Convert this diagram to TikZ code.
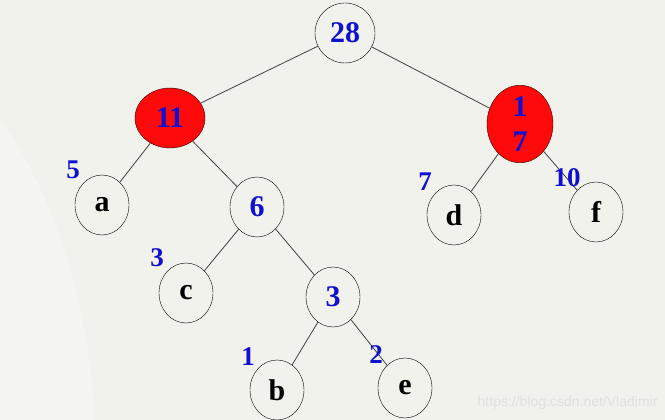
\documentclass[tikz,border=0pt]{standalone}
\usepackage{fontspec}
\setmainfont{Liberation Serif}
\newfontfamily\wmfont{Liberation Sans}
\usetikzlibrary{shapes.geometric}
\definecolor{bg}{HTML}{F1F2EC}
\definecolor{wblue}{HTML}{1010D0}
\definecolor{hred}{HTML}{FF0A0A}

\begin{document}
\begin{tikzpicture}[x=1pt, y=-1pt,
    nd/.style={draw, ellipse, thin, fill=bg, inner sep=0pt,
        minimum width=54, minimum height=60,
        font=\bfseries\fontsize{30}{32}\selectfont},
    hot/.style={nd, fill=hred, draw=black!80!red, text=wblue},
    num/.style={text=wblue},
    wt/.style={text=wblue, font=\bfseries\fontsize{27}{29}\selectfont},
    edge/.style={black!75, line width=0.8pt}]
    \fill[bg] (0,0) rectangle (665,420);
    \useasboundingbox (0,0) rectangle (665,420);
    % faint light streak on the left
    \fill[white, opacity=0.25] (0,120) .. controls (60,200) and (90,320) .. (95,420) -- (0,420) -- cycle;

    % nodes
    \node[nd, num, minimum width=60] (n28) at (345,33) {28};
    \node[hot, minimum width=70] (n11) at (170,118) {11};
    \node[hot, minimum width=66, minimum height=62, align=center,
        font=\bfseries\fontsize{30}{35}\selectfont] (n17) at (520,124) {1\\7};
    \node[nd] (a) at (102,205) {a};
    \node[nd, num] (n6) at (257,207) {6};
    \node[nd] (d) at (454,215) {d};
    \node[nd] (f) at (596,212) {f};
    \node[nd] (c) at (186,293) {c};
    \node[nd, num] (n3) at (333,297) {3};
    \node[nd] (b) at (277,390) {b};
    \node[nd] (e) at (405,388) {e};

    % edges
    \foreach \u/\v in {n28/n11, n28/n17, n11/a, n11/n6, n17/d, n17/f,
                       n6/c, n6/n3, n3/b, n3/e} {
        \draw[edge] (\u) -- (\v);
    }

    % weights
    \node[wt] (w5) at (73,170) {5};
    \node[wt] (w3) at (157,258) {3};
    \node[wt] (w7) at (425,182) {7};
    \node[wt] (w10) at (567,178) {10};
    \node[wt] (w1) at (248,357) {1};
    \node[wt] (w2) at (376,355) {2};

    \node[text=black!12, font=\wmfont\fontsize{14}{16}\selectfont, anchor=east]
        (wm) at (661,403) {https://blog.csdn.net/Vladimir};
\end{tikzpicture}
\end{document}
